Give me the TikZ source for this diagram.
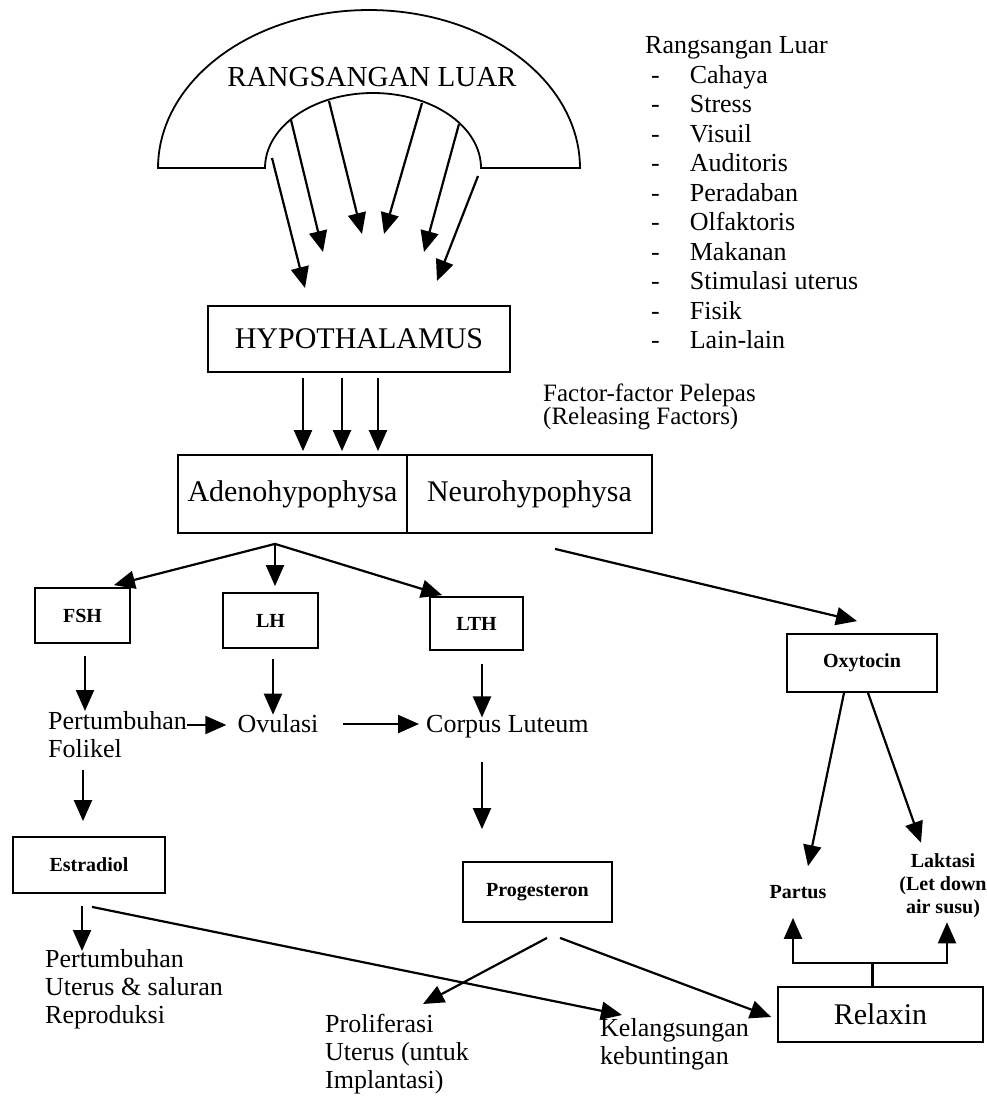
\documentclass[tikz,border=0pt]{standalone}
\usepackage{fontspec}
\setmainfont{Liberation Serif}
\usetikzlibrary{arrows.meta,calc}

\begin{document}
\begin{tikzpicture}[x=1pt,y=-1pt,
	>={Triangle[length=21pt,width=18pt]},
	arr/.style={line width=2.2pt,->},
	box/.style={draw,line width=1.8pt,inner sep=0pt,font=\fontsize{30}{34}\selectfont},
	hbox/.style={draw,line width=1.8pt,inner sep=0pt,font=\fontsize{20}{24}\selectfont\bfseries},
	txt/.style={inner sep=0pt,align=left,font=\fontsize{26}{28}\selectfont},
	btxt/.style={inner sep=0pt,align=center,font=\fontsize{20}{23}\selectfont\bfseries}]
		\useasboundingbox (0,0) rectangle (987,1100);
		% the arch
		\draw[line width=1.8pt] plot[domain=180:360,samples=80] ({369+211*cos(\x)},{168+158*sin(\x)})
			-- plot[domain=360:180,samples=80] ({373+108*cos(\x)},{168+75*sin(\x)}) -- cycle;
		\node[txt,font=\fontsize{29}{32}\selectfont] (luar) at (372,77) {RANGSANGAN LUAR};
		\foreach \a/\b/\c/\d in {272/158/305/288, 291/120/323/252, 329/101/362/234,
			422/103/384/234, 459/124/424/252, 478/176/437/281}
			\draw[arr] (\a,\b) -- (\c,\d);
		% list on the right
		\node[txt,anchor=north west,font=\fontsize{26}{29.5}\selectfont] (list) at (645,33) {%
			\begin{tabular}{@{}l@{\hspace{30pt}}l@{}}
			\multicolumn{2}{@{}l@{}}{Rangsangan Luar}\\
			\hspace{6pt}- & Cahaya\\
			\hspace{6pt}- & Stress\\
			\hspace{6pt}- & Visuil\\
			\hspace{6pt}- & Auditoris\\
			\hspace{6pt}- & Peradaban\\
			\hspace{6pt}- & Olfaktoris\\
			\hspace{6pt}- & Makanan\\
			\hspace{6pt}- & Stimulasi uterus\\
			\hspace{6pt}- & Fisik\\
			\hspace{6pt}- & Lain-lain
			\end{tabular}};
		\node[txt,anchor=north west,font=\fontsize{25}{23}\selectfont] (factor) at (543,384) {Factor-factor Pelepas\\(Releasing Factors)};
		% boxes
		\node[box,minimum width=302pt,minimum height=66pt] (hypo) at (359,339) {HYPOTHALAMUS};
		\node[box,minimum width=229pt,minimum height=78pt] (adeno) at (292.5,494) {Adenohypophysa};
		\node[box,minimum width=245pt,minimum height=78pt] (neuro) at (529.5,494) {Neurohypophysa};
		\node[hbox,minimum width=95pt,minimum height=55pt] (fsh) at (82.5,615.5) {FSH};
		\node[hbox,minimum width=95pt,minimum height=55pt] (lh) at (270.5,620.5) {LH};
		\node[hbox,minimum width=93pt,minimum height=53pt] (lth) at (476.5,623.5) {LTH};
		\node[hbox,minimum width=150pt,minimum height=58pt] (oxy) at (862,663) {Oxytocin};
		\node[hbox,minimum width=152pt,minimum height=56pt] (estr) at (89,865) {Estradiol};
		\node[hbox,minimum width=149pt,minimum height=60pt] (prog) at (537.5,892) {Progesteron};
		\node[box,minimum width=205pt,minimum height=55pt] (relax) at (880.5,1014.5) {Relaxin};
		% texts
		\node[txt,anchor=north west] (folikel) at (48,711) {Pertumbuhan\\Folikel};
		\node[txt] (ovul) at (278,724) {Ovulasi};
		\node[txt,anchor=west] (corpus) at (426,727) {Corpus Luteum};
		\node[txt,anchor=north west] (uterus) at (45,949) {Pertumbuhan\\Uterus \& saluran\\Reproduksi};
		\node[txt,anchor=north west] (prolif) at (325,1014) {Proliferasi\\Uterus (untuk\\Implantasi)};
		\node[txt,anchor=north west] (kelang) at (600,1018) {Kelangsungan\\kebuntingan};
		\node[btxt] (partus) at (798,892) {Partus};
		\node[btxt] (laktasi) at (943,886) {Laktasi\\(Let down\\air susu)};
		% connectors
		\foreach \dx in {-56,-17,19}
			\draw[arr] ($(hypo.south)+(\dx,5)$) -- ($(hypo.south |- adeno.north)+(\dx,-3)$);
		\coordinate (br) at ($(adeno.south)+(-17.5,10)$);
		\draw[arr] (br) -- ($(fsh.north east)+(-17,-2)$);
		\draw[arr] (br) -- ($(br |- lh.north)+(0,-6)$);
		\draw[arr] (br) -- ($(lth.north west)+(13,-1)$);
		\draw[arr] ($(neuro.south)+(25.5,15)$) -- ($(oxy.north)+(-5,-12)$);
		\draw[arr] ($(fsh.south)+(2.5,12)$) -- ($(fsh.south |- folikel.north)+(2.5,0)$);
		\draw[arr] ($(lh.south)+(2.5,10)$) -- ($(lh.south |- ovul.north)+(2.5,0)$);
		\draw[arr] ($(lth.south)+(5.5,13)$) -- ($(lth.south |- corpus.north)+(5.5,2)$);
		\coordinate (fo) at ($(folikel.north east)+(0,14)$);
		\draw[arr] (fo) -- ($(fo -| ovul.west)+(-11,0)$);
		\draw[arr] ($(ovul.east)+(24,0)$) -- ($(ovul.east -| corpus.west)+(-7,0)$);
		\draw[arr] ($(fsh.south |- folikel.south)+(0.5,12)$) -- ($(fsh.south |- estr.north)+(0.5,-15)$);
		\draw[arr] ($(lth.south |- corpus.south)+(5.5,23)$) -- ($(lth.south |- prog.north)+(5.5,-32)$);
		\draw[arr] ($(fsh.south |- estr.south)+(-0.5,12)$) -- ($(fsh.south |- uterus.north)+(-0.5,2)$);
		\draw[arr] ($(estr.south)+(3,13)$) -- ($(kelang.north west)+(22,-3)$);
		\draw[arr] ($(prog.south)+(9.5,15)$) -- ($(prolif.north west)+(98,-10)$);
		\draw[arr] ($(prog.south)+(22.5,15)$) -- ($(relax.west)+(-6,2.5)$);
		\draw[arr] ($(oxy.south)+(-18,0)$) -- ($(partus.north)+(10,-19)$);
		\draw[arr] ($(oxy.south)+(6,0)$) -- ($(laktasi.north)+(-22,-11)$);
		\coordinate (fork) at ($(relax.north)+(-8,-23)$);
		\draw[line width=2.2pt] ($(relax.north)+(-8,0)$) -- (fork);
		\draw[arr] (fork) -| ($(partus.south)+(-5,19)$);
		\draw[arr] (fork) -| ($(laktasi.south)+(4,4)$);
\end{tikzpicture}
\end{document}
